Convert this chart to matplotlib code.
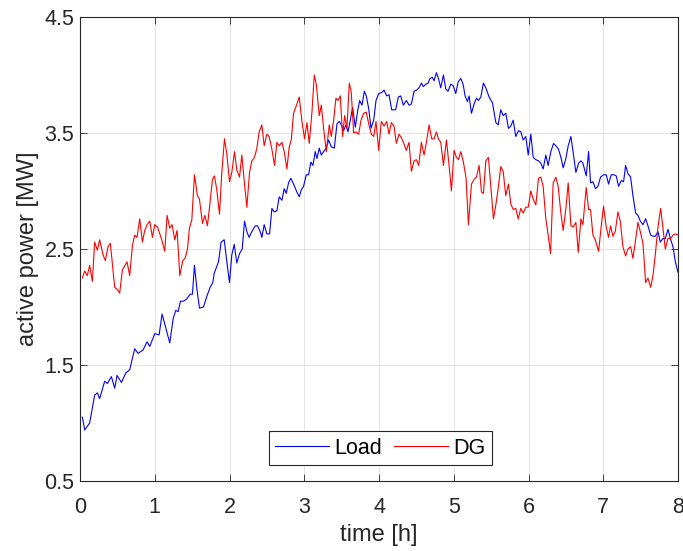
import matplotlib
matplotlib.use("Agg")
import matplotlib.pyplot as plt

# Time axis [h] and active power [MW] for the load profile
load_t = [0.031, 0.063, 0.129, 0.196, 0.232, 0.263, 0.330, 0.366, 0.420, 0.464,
          0.496, 0.554, 0.612, 0.665, 0.732, 0.777, 0.844, 0.897, 0.933, 1.000,
          1.058, 1.098, 1.147, 1.201, 1.246, 1.281, 1.313, 1.344, 1.384, 1.429,
          1.473, 1.504, 1.531, 1.563, 1.598, 1.652, 1.696, 1.741, 1.777, 1.795,
          1.853, 1.888, 1.929, 1.964, 2.000, 2.031, 2.063, 2.098, 2.134, 2.170,
          2.201, 2.232, 2.263, 2.299, 2.344, 2.375, 2.411, 2.433, 2.464, 2.500,
          2.536, 2.567, 2.598, 2.634, 2.665, 2.701, 2.732, 2.759, 2.790, 2.821,
          2.857, 2.902, 2.933, 2.960, 2.991, 3.027, 3.058, 3.089, 3.116, 3.147,
          3.170, 3.201, 3.228, 3.259, 3.295, 3.326, 3.362, 3.402, 3.438, 3.469,
          3.496, 3.527, 3.558, 3.585, 3.616, 3.647, 3.683, 3.714, 3.741, 3.772,
          3.804, 3.830, 3.862, 3.893, 3.929, 3.960, 3.996, 4.040, 4.067, 4.103,
          4.134, 4.170, 4.223, 4.259, 4.290, 4.326, 4.366, 4.402, 4.433, 4.469,
          4.504, 4.536, 4.567, 4.594, 4.625, 4.656, 4.683, 4.714, 4.737, 4.768,
          4.795, 4.826, 4.862, 4.893, 4.924, 4.960, 4.991, 5.027, 5.058, 5.094,
          5.125, 5.152, 5.183, 5.205, 5.237, 5.272, 5.304, 5.330, 5.362, 5.397,
          5.429, 5.473, 5.518, 5.563, 5.594, 5.629, 5.661, 5.696, 5.732, 5.763,
          5.795, 5.830, 5.866, 5.897, 5.929, 5.964, 5.996, 6.031, 6.063, 6.098,
          6.134, 6.165, 6.196, 6.232, 6.263, 6.299, 6.335, 6.366, 6.402, 6.433,
          6.464, 6.500, 6.531, 6.567, 6.598, 6.634, 6.670, 6.701, 6.728, 6.772,
          6.804, 6.830, 6.862, 6.897, 6.929, 6.964, 7.004, 7.040, 7.071, 7.107,
          7.143, 7.174, 7.205, 7.241, 7.272, 7.299, 7.330, 7.366, 7.397, 7.433,
          7.464, 7.496, 7.531, 7.567, 7.598, 7.634, 7.665, 7.696, 7.732, 7.763,
          7.799, 7.830, 7.866, 7.902, 7.933, 7.964, 8.000]
load_p = [1.05, 0.94, 1.00, 1.24, 1.26, 1.21, 1.36, 1.34, 1.40, 1.30,
          1.41, 1.35, 1.43, 1.46, 1.64, 1.60, 1.63, 1.70, 1.66, 1.77,
          1.76, 1.94, 1.82, 1.69, 1.90, 1.97, 1.96, 2.05, 2.05, 2.07,
          2.11, 2.11, 2.36, 2.16, 1.99, 2.00, 2.09, 2.17, 2.21, 2.29,
          2.39, 2.56, 2.58, 2.39, 2.21, 2.45, 2.54, 2.38, 2.46, 2.50,
          2.74, 2.65, 2.60, 2.65, 2.70, 2.70, 2.65, 2.60, 2.71, 2.63,
          2.63, 2.85, 2.82, 2.83, 2.95, 2.92, 3.02, 2.98, 3.07, 3.11,
          3.06, 2.99, 2.95, 3.01, 3.04, 3.14, 3.14, 3.25, 3.22, 3.34,
          3.28, 3.37, 3.31, 3.34, 3.37, 3.44, 3.38, 3.37, 3.58, 3.60,
          3.57, 3.52, 3.57, 3.51, 3.61, 3.72, 3.55, 3.69, 3.78, 3.74,
          3.86, 3.82, 3.71, 3.54, 3.61, 3.78, 3.84, 3.85, 3.87, 3.82,
          3.83, 3.70, 3.70, 3.81, 3.82, 3.74, 3.78, 3.74, 3.75, 3.86,
          3.87, 3.89, 3.93, 3.90, 3.92, 3.93, 3.97, 3.98, 3.95, 4.02,
          3.97, 3.89, 4.00, 3.88, 3.86, 3.92, 3.91, 3.84, 3.94, 3.97,
          3.92, 3.82, 3.77, 3.82, 3.67, 3.75, 3.80, 3.78, 3.81, 3.93,
          3.89, 3.81, 3.76, 3.59, 3.57, 3.70, 3.65, 3.67, 3.54, 3.56,
          3.61, 3.47, 3.52, 3.51, 3.44, 3.47, 3.31, 3.49, 3.29, 3.27,
          3.26, 3.24, 3.19, 3.31, 3.22, 3.34, 3.41, 3.39, 3.36, 3.29,
          3.20, 3.28, 3.39, 3.47, 3.33, 3.16, 3.24, 3.26, 3.24, 3.13,
          3.34, 3.07, 3.08, 3.02, 3.04, 3.12, 3.14, 3.14, 3.06, 3.14,
          3.14, 3.13, 3.04, 3.09, 3.08, 3.22, 3.15, 3.12, 2.96, 2.81,
          2.79, 2.74, 2.71, 2.76, 2.70, 2.62, 2.61, 2.61, 2.65, 2.56,
          2.59, 2.59, 2.67, 2.58, 2.52, 2.39, 2.30]

# Time axis [h] and active power [MW] of the distributed generation
dg_t = [0.031, 0.063, 0.098, 0.129, 0.165, 0.196, 0.232, 0.263, 0.308, 0.339,
        0.375, 0.406, 0.464, 0.500, 0.531, 0.567, 0.629, 0.665, 0.701, 0.732,
        0.763, 0.799, 0.835, 0.866, 0.897, 0.933, 0.969, 1.000, 1.036, 1.089,
        1.134, 1.165, 1.201, 1.232, 1.268, 1.299, 1.335, 1.375, 1.406, 1.438,
        1.464, 1.496, 1.531, 1.571, 1.598, 1.638, 1.670, 1.705, 1.741, 1.772,
        1.799, 1.830, 1.866, 1.897, 1.933, 1.964, 2.000, 2.031, 2.067, 2.098,
        2.134, 2.165, 2.201, 2.232, 2.268, 2.299, 2.335, 2.366, 2.397, 2.433,
        2.464, 2.500, 2.531, 2.567, 2.603, 2.634, 2.665, 2.701, 2.732, 2.768,
        2.799, 2.826, 2.857, 2.902, 2.933, 2.969, 3.004, 3.036, 3.067, 3.103,
        3.134, 3.161, 3.201, 3.228, 3.259, 3.295, 3.335, 3.362, 3.393, 3.424,
        3.451, 3.482, 3.513, 3.540, 3.571, 3.603, 3.629, 3.661, 3.692, 3.728,
        3.759, 3.795, 3.830, 3.862, 3.897, 3.929, 3.960, 3.996, 4.031, 4.067,
        4.103, 4.134, 4.165, 4.201, 4.232, 4.268, 4.299, 4.326, 4.366, 4.402,
        4.433, 4.469, 4.500, 4.531, 4.567, 4.603, 4.634, 4.670, 4.705, 4.737,
        4.768, 4.795, 4.826, 4.862, 4.902, 4.933, 4.969, 5.004, 5.036, 5.063,
        5.094, 5.129, 5.165, 5.196, 5.237, 5.272, 5.304, 5.339, 5.371, 5.397,
        5.429, 5.464, 5.496, 5.531, 5.563, 5.594, 5.629, 5.661, 5.696, 5.732,
        5.763, 5.795, 5.830, 5.862, 5.897, 5.929, 5.964, 5.996, 6.031, 6.063,
        6.098, 6.134, 6.165, 6.196, 6.232, 6.263, 6.295, 6.330, 6.366, 6.397,
        6.433, 6.464, 6.500, 6.531, 6.567, 6.598, 6.634, 6.665, 6.701, 6.728,
        6.772, 6.804, 6.830, 6.862, 6.893, 6.938, 6.973, 7.004, 7.040, 7.071,
        7.098, 7.129, 7.161, 7.196, 7.228, 7.263, 7.299, 7.330, 7.366, 7.397,
        7.429, 7.464, 7.496, 7.531, 7.567, 7.598, 7.634, 7.665, 7.696, 7.732,
        7.768, 7.799, 7.830, 7.866, 7.902, 7.933, 7.964, 8.000]
dg_p = [2.25, 2.31, 2.27, 2.36, 2.22, 2.56, 2.49, 2.58, 2.45, 2.40,
        2.52, 2.55, 2.17, 2.15, 2.12, 2.32, 2.39, 2.27, 2.53, 2.62,
        2.60, 2.76, 2.56, 2.66, 2.71, 2.74, 2.60, 2.71, 2.69, 2.59,
        2.48, 2.79, 2.68, 2.71, 2.58, 2.66, 2.27, 2.40, 2.42, 2.50,
        2.68, 2.75, 3.14, 2.96, 2.93, 2.72, 2.79, 2.70, 2.91, 3.10,
        3.13, 3.01, 2.80, 3.16, 3.45, 3.32, 3.08, 3.16, 3.34, 3.18,
        3.12, 3.31, 3.06, 2.86, 3.16, 3.26, 3.29, 3.37, 3.51, 3.57,
        3.39, 3.49, 3.47, 3.36, 3.22, 3.42, 3.39, 3.42, 3.34, 3.19,
        3.38, 3.44, 3.67, 3.75, 3.81, 3.60, 3.45, 3.59, 3.41, 3.68,
        4.00, 3.92, 3.65, 3.74, 3.54, 3.34, 3.57, 3.47, 3.61, 3.80,
        3.78, 3.82, 3.47, 3.65, 3.54, 3.93, 3.85, 3.50, 3.51, 3.49,
        3.61, 3.67, 3.68, 3.58, 3.49, 3.47, 3.60, 3.35, 3.60, 3.56,
        3.60, 3.49, 3.59, 3.56, 3.41, 3.49, 3.46, 3.42, 3.35, 3.42,
        3.17, 3.26, 3.27, 3.22, 3.42, 3.31, 3.42, 3.57, 3.45, 3.45,
        3.51, 3.45, 3.42, 3.22, 3.44, 3.25, 3.00, 3.35, 3.29, 3.27,
        3.34, 3.25, 3.11, 2.71, 3.06, 3.10, 3.12, 3.22, 2.99, 2.98,
        3.26, 3.29, 3.04, 2.76, 2.88, 3.02, 3.21, 3.17, 2.96, 3.06,
        2.89, 2.84, 2.85, 2.76, 2.85, 2.81, 2.86, 2.86, 3.00, 2.93,
        2.88, 3.11, 3.12, 3.04, 2.76, 2.62, 2.46, 3.07, 3.12, 3.04,
        2.81, 2.66, 2.85, 3.07, 2.70, 2.69, 2.73, 2.47, 2.76, 2.71,
        3.03, 2.84, 2.84, 2.62, 2.58, 2.48, 2.70, 2.87, 2.69, 2.60,
        2.70, 2.61, 2.65, 2.82, 2.74, 2.52, 2.44, 2.50, 2.52, 2.42,
        2.56, 2.73, 2.65, 2.55, 2.21, 2.25, 2.17, 2.27, 2.45, 2.69,
        2.85, 2.68, 2.50, 2.59, 2.59, 2.62, 2.63, 2.62]

x_ticks = [0, 1, 2, 3, 4, 5, 6, 7, 8]
y_ticks = [0.5, 1.5, 2.5, 3.5, 4.5]

plt.rcParams['font.family'] = ['Liberation Sans', 'DejaVu Sans']
axis_color = '#262626'

fig = plt.figure(figsize=(6.83, 5.51), dpi=100)
ax = fig.add_axes([80 / 683, 70 / 551, 598 / 683, 464 / 551])

ax.plot(load_t, load_p, color='#0000ff', lw=0.8, label='Load')
ax.plot(dg_t, dg_p, color='#ff0000', lw=0.8, label='DG')

ax.set_xlim(0, 8)
ax.set_ylim(0.5, 4.5)
ax.set_xticks(x_ticks)
ax.set_yticks(y_ticks)
ax.set_yticklabels([f'{v:.1f}' for v in y_ticks])

ax.grid(True, color='#dfdfdf', lw=0.6)
ax.set_axisbelow(True)
for s in ax.spines.values():
    s.set_color(axis_color)
    s.set_linewidth(0.8)
ax.tick_params(direction='in', length=5, width=0.6, colors=axis_color,
               labelsize=15.5, top=True, right=True)
ax.tick_params(axis='x', pad=11.5)
ax.tick_params(axis='y', pad=4)

ax.set_xlabel('time [h]', fontsize=17, color=axis_color, labelpad=4)
ax.set_ylabel('active power [MW]', fontsize=17, color=axis_color, labelpad=4)

leg = ax.legend(loc='lower center', bbox_to_anchor=(0.502, 0.034), ncol=2,
                fontsize=15.5, frameon=True, fancybox=False, borderaxespad=0,
                handlelength=2.5, handletextpad=0.25, columnspacing=0.55,
                borderpad=0.3)
leg.get_frame().set_edgecolor('#262626')
leg.get_frame().set_linewidth(0.8)
leg.get_frame().set_alpha(1)

fig.savefig('out.png', dpi=100)
